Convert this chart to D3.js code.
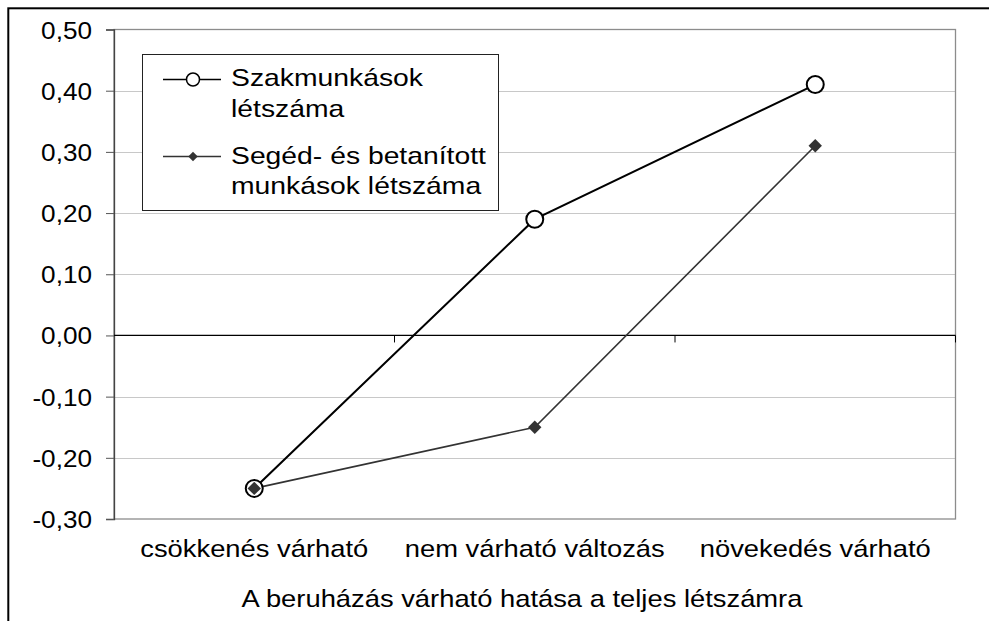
<!DOCTYPE html>
<html>
<head>
<meta charset="utf-8">
<script src="https://cdn.jsdelivr.net/npm/d3@7"></script>
<style>
  html, body { margin: 0; padding: 0; background: #fff; }
  svg { display: block; }
  text { font-family: "Liberation Sans", Arial, sans-serif; fill: #000; }
</style>
</head>
<body>
<svg id="chart" width="989" height="621"></svg>
<script>
// Categories on the x axis
const categories = ["csökkenés várható", "nem várható változás", "növekedés várható"];
// Series values
const szakmunkasok = [-0.25, 0.19, 0.41];
const segedBetanitott = [-0.25, -0.15, 0.31];
// Series names (legend)
const seriesNames = [["Szakmunkások", "létszáma"], ["Segéd- és betanított", "munkások létszáma"]];
// Y axis ticks
const yTicks = [-0.3, -0.2, -0.1, 0, 0.1, 0.2, 0.3, 0.4, 0.5];
const xTitle = "A beruházás várható hatása a teljes létszámra";

const svg = d3.select("#chart");
const W = 989, H = 621;
const plot = { left: 114, right: 955.5, top: 29.5, bottom: 519 };

const x = d3.scaleBand().domain(categories).range([plot.left, plot.right]).padding(0);
const y = d3.scaleLinear().domain([-0.3, 0.5]).range([plot.bottom, plot.top]);

const fmt = v => d3.format(".2f")(v).replace(".", ",").replace("−", "-");

// Text drawn with a slight horizontal stretch of the glyphs
function stretchedText(g, tx, ty, str, size, anchor, sx) {
  return g.append("text")
    .attr("transform", `translate(${tx},${ty}) scale(${sx},1)`)
    .attr("text-anchor", anchor || "start")
    .style("font-size", size + "px")
    .text(str);
}

// Outer chart frame (extends beyond the right and bottom edges)
svg.append("rect")
  .attr("x", 8.3).attr("y", 8.3)
  .attr("width", W + 20).attr("height", H + 20)
  .attr("fill", "none").attr("stroke", "#000").attr("stroke-width", 2);

// Gridlines
svg.append("g").selectAll("line")
  .data(yTicks.filter(t => t !== 0 && t !== 0.5 && t !== -0.3))
  .join("line")
  .attr("x1", plot.left).attr("x2", plot.right)
  .attr("y1", d => Math.round(y(d)) + 0.5).attr("y2", d => Math.round(y(d)) + 0.5)
  .attr("stroke", "#c8c8c8").attr("stroke-width", 1);

// Plot area border
svg.append("rect")
  .attr("x", plot.left).attr("y", plot.top)
  .attr("width", plot.right - plot.left).attr("height", plot.bottom - plot.top)
  .attr("fill", "none").attr("stroke", "#8c8c8c").attr("stroke-width", 1.3);

// Y axis
const yAxis = d3.axisLeft(y).tickValues(yTicks).tickSize(8).tickFormat(() => "");
const yG = svg.append("g").attr("transform", `translate(${plot.left},0)`).call(yAxis);
yG.select(".domain").attr("stroke", "#444").attr("stroke-width", 1.3);
yG.selectAll(".tick line").attr("stroke", "#555");
yG.selectAll(".tick").each(function(d) {
  stretchedText(d3.select(this), -22, 8.5, fmt(d), 24, "end", 1.09);
});

// X axis along zero line, with ticks at category boundaries
const zeroY = y(0);
svg.append("line")
  .attr("x1", plot.left).attr("x2", plot.right)
  .attr("y1", zeroY).attr("y2", zeroY)
  .attr("stroke", "#000").attr("stroke-width", 1.3);
const bounds = categories.map(c => x(c) + x.bandwidth());
svg.append("g").selectAll("line").data(bounds).join("line")
  .attr("x1", d => d).attr("x2", d => d)
  .attr("y1", zeroY).attr("y2", zeroY + 7)
  .attr("stroke", "#000").attr("stroke-width", 1);

// Category labels below the plot
const catG = svg.append("g");
categories.forEach(c => {
  stretchedText(catG, x(c) + x.bandwidth() / 2, 557, c, 24, "middle", 1.14);
});

// Axis title
stretchedText(svg, 522, 607, xTitle, 24, "middle", 1.14);

// Lines
const line = d3.line().x((d, i) => x(categories[i]) + x.bandwidth() / 2).y(d => y(d));
svg.append("path").datum(segedBetanitott).attr("d", line)
  .attr("fill", "none").attr("stroke", "#333").attr("stroke-width", 1.6);
svg.append("path").datum(szakmunkasok).attr("d", line)
  .attr("fill", "none").attr("stroke", "#000").attr("stroke-width", 2);

// Markers
svg.append("g").selectAll("circle").data(szakmunkasok).join("circle")
  .attr("cx", (d, i) => x(categories[i]) + x.bandwidth() / 2)
  .attr("cy", d => y(d))
  .attr("r", 8.5)
  .attr("fill", "#fff").attr("stroke", "#000").attr("stroke-width", 2);
svg.append("g").selectAll("path").data(segedBetanitott).join("path")
  .attr("transform", (d, i) => `translate(${x(categories[i]) + x.bandwidth() / 2},${y(d)}) rotate(45)`)
  .attr("d", d3.symbol().type(d3.symbolSquare).size(90))
  .attr("fill", "#333");

// Legend
const leg = svg.append("g");
leg.append("rect")
  .attr("x", 142.5).attr("y", 54.5).attr("width", 356).attr("height", 156)
  .attr("fill", "#fff").attr("stroke", "#222").attr("stroke-width", 1);
const legY = [79.5, 156.5];
// entry 1
leg.append("line").attr("x1", 163).attr("x2", 221).attr("y1", legY[0]).attr("y2", legY[0])
  .attr("stroke", "#000").attr("stroke-width", 1.5);
leg.append("circle").attr("cx", 193).attr("cy", legY[0]).attr("r", 6.5)
  .attr("fill", "#fff").attr("stroke", "#000").attr("stroke-width", 1.5);
// entry 2
leg.append("line").attr("x1", 163).attr("x2", 221).attr("y1", legY[1]).attr("y2", legY[1])
  .attr("stroke", "#333").attr("stroke-width", 1.5);
leg.append("path").attr("transform", `translate(193,${legY[1]}) rotate(45)`)
  .attr("d", d3.symbol().type(d3.symbolSquare).size(45)).attr("fill", "#333");
const legBase = [[86, 117], [164, 194]];
seriesNames.forEach((lines, i) => {
  lines.forEach((t, j) => stretchedText(leg, 231, legBase[i][j], t, 24, "start", 1.18));
});
</script>
</body>
</html>
